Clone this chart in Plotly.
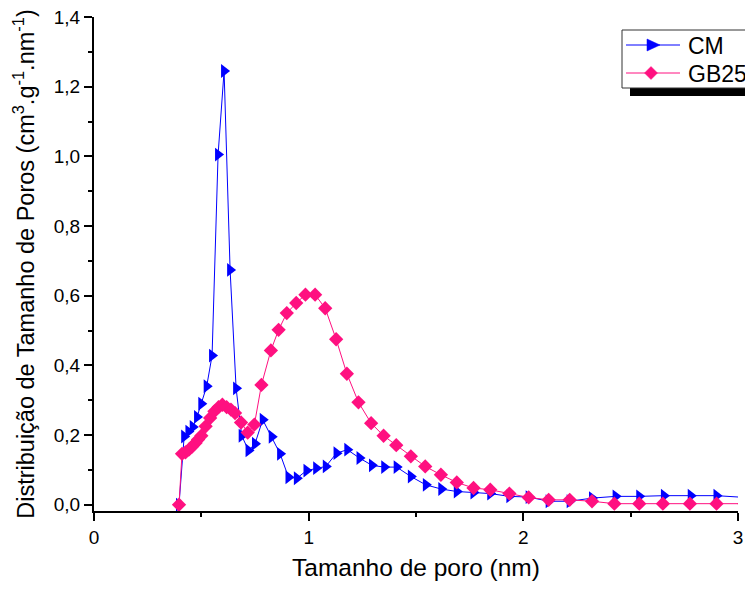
import plotly.graph_objects as go

# ---- data ----
cm_x = [0.396, 0.42, 0.44, 0.46, 0.48, 0.50, 0.525, 0.55, 0.578, 0.606, 0.634, 0.662,
        0.688, 0.72, 0.75, 0.786, 0.828, 0.867, 0.906, 0.945, 0.99, 1.035, 1.08, 1.13,
        1.18, 1.237, 1.295, 1.352, 1.41, 1.476, 1.546, 1.618, 1.69, 1.768, 1.846, 1.935,
        2.025, 2.118, 2.216, 2.32, 2.43, 2.54, 2.655, 2.78, 2.90, 3.03]
cm_y = [0.0, 0.196, 0.21, 0.223, 0.252, 0.29, 0.34, 0.428, 1.005, 1.245, 0.674, 0.334,
        0.198, 0.156, 0.175, 0.244, 0.195, 0.146, 0.079, 0.076, 0.098, 0.105, 0.11, 0.148,
        0.158, 0.134, 0.113, 0.108, 0.108, 0.081, 0.057, 0.045, 0.038, 0.035, 0.032, 0.024,
        0.022, 0.01, 0.01, 0.019, 0.024, 0.024, 0.026, 0.026, 0.026, 0.021]

gb_x = [0.396, 0.41, 0.426, 0.442, 0.457, 0.473, 0.485, 0.50, 0.52, 0.541, 0.561, 0.58,
        0.598, 0.618, 0.638, 0.657, 0.685, 0.716, 0.747, 0.78, 0.824, 0.86, 0.898, 0.942,
        0.985, 1.03, 1.077, 1.128, 1.178, 1.232, 1.291, 1.349, 1.408, 1.476, 1.543, 1.616,
        1.69, 1.768, 1.846, 1.935, 2.025, 2.118, 2.216, 2.32, 2.424, 2.54, 2.65, 2.776,
        2.90, 3.03]
gb_y = [0.0, 0.146, 0.15, 0.158, 0.167, 0.177, 0.187, 0.198, 0.225, 0.249, 0.268, 0.28,
        0.287, 0.28, 0.273, 0.263, 0.236, 0.207, 0.23, 0.344, 0.443, 0.502, 0.55, 0.579,
        0.603, 0.603, 0.564, 0.475, 0.376, 0.294, 0.234, 0.198, 0.171, 0.139, 0.11, 0.086,
        0.064, 0.048, 0.043, 0.032, 0.021, 0.014, 0.014, 0.01, 0.003, 0.003, 0.003, 0.003,
        0.003, 0.003]

series_names = ["CM", "GB25"]
x_tickvals = [0, 1, 2, 3]
x_ticktext = ["0", "1", "2", "3"]
y_tickvals = [0.0, 0.2, 0.4, 0.6, 0.8, 1.0, 1.2, 1.4]
y_ticktext = ["0,0", "0,2", "0,4", "0,6", "0,8", "1,0", "1,2", "1,4"]

FONT = "Liberation Sans, Arial, sans-serif"
BLUE = "#0000FF"
PINK = "#FF1080"

W, H = 745, 590
ML, MR, MT, MB = 94, 7, 17, 79
PW, PH = W - ML - MR, H - MT - MB


def px(xp):
    """page pixel x -> paper fraction"""
    return (xp - ML) / PW


def py(yp):
    """page pixel y -> paper fraction"""
    return (H - MB - yp) / PH


fig = go.Figure()
fig.add_trace(go.Scatter(
    x=cm_x, y=cm_y, name=series_names[0], mode="lines+markers",
    line=dict(color=BLUE, width=1),
    marker=dict(symbol="triangle-right", size=12, color=BLUE),
))
fig.add_trace(go.Scatter(
    x=gb_x, y=gb_y, name=series_names[1], mode="lines+markers",
    line=dict(color=PINK, width=1),
    marker=dict(symbol="diamond", size=11, color=PINK),
))

# ---- Origin-style legend box (extends past the right edge, with shadow) ----
shapes = [
    dict(type="rect", xref="paper", yref="paper", x0=px(630), x1=px(770), y0=py(96), y1=py(88),
         fillcolor="black", line=dict(width=0), layer="above"),
    dict(type="rect", xref="paper", yref="paper", x0=px(622), x1=px(770), y0=py(88), y1=py(30),
         fillcolor="white", line=dict(color="#333333", width=1), layer="above"),
    dict(type="line", xref="paper", yref="paper", x0=px(626), x1=px(680), y0=py(45), y1=py(45),
         line=dict(color=BLUE, width=1), layer="above"),
    dict(type="line", xref="paper", yref="paper", x0=px(626), x1=px(680), y0=py(73), y1=py(73),
         line=dict(color=PINK, width=1), layer="above"),
    dict(type="path", xref="paper", yref="paper", xsizemode="pixel", ysizemode="pixel",
         xanchor=px(653), yanchor=py(45), path="M -6,6 L 7,0 L -6,-6 Z",
         fillcolor=BLUE, line=dict(color=BLUE, width=0.5), layer="above"),
    dict(type="path", xref="paper", yref="paper", xsizemode="pixel", ysizemode="pixel",
         xanchor=px(651), yanchor=py(73), path="M 0,6.5 L 6.5,0 L 0,-6.5 L -6.5,0 Z",
         fillcolor=PINK, line=dict(color=PINK, width=0.5), layer="above"),
]
annotations = [
    dict(xref="paper", yref="paper", x=px(686), y=py(46), xanchor="left", yanchor="middle",
         text=series_names[0], showarrow=False, font=dict(family=FONT, size=23, color="black")),
    dict(xref="paper", yref="paper", x=px(686), y=py(74), xanchor="left", yanchor="middle",
         text=series_names[1], showarrow=False, font=dict(family=FONT, size=23, color="black")),
]

fig.update_layout(
    width=W, height=H,
    margin=dict(l=ML, r=MR, t=MT, b=MB, autoexpand=False),
    paper_bgcolor="white", plot_bgcolor="white",
    font=dict(family=FONT, color="black", size=19),
    showlegend=False,
    xaxis=dict(
        range=[0, 3], tickmode="array", tickvals=x_tickvals, ticktext=x_ticktext,
        showgrid=False, zeroline=False, showline=True, linecolor="black", linewidth=2,
        ticks="outside", ticklen=8, tickwidth=1.5, tickcolor="black",
        minor=dict(tickvals=[0.5, 1.5, 2.5], ticks="outside", ticklen=4, tickwidth=1.5, tickcolor="black"),
        tickfont=dict(size=19), automargin=False, ticklabeloverflow="allow",
        title=dict(text="Tamanho de poro (nm)", font=dict(size=24.5), standoff=12),
    ),
    yaxis=dict(
        range=[-0.018, 1.4], tickmode="array", tickvals=y_tickvals, ticktext=y_ticktext,
        showgrid=False, zeroline=False, showline=True, linecolor="black", linewidth=2,
        ticks="outside", ticklen=8, tickwidth=1.5, tickcolor="black",
        minor=dict(tickvals=[0.1, 0.3, 0.5, 0.7, 0.9, 1.1, 1.3], ticks="outside", ticklen=4,
                   tickwidth=1.5, tickcolor="black"),
        tickfont=dict(size=19), automargin=False, ticklabeloverflow="allow",
        title=dict(text="Distribuição de Tamanho de Poros (cm<sup>3</sup>.g<sup>-1</sup>.nm<sup>-1</sup>)",
                   font=dict(size=23.5), standoff=13),
    ),
    shapes=shapes,
    annotations=annotations,
)

# remove the page's default body margin so the 745x590 figure fills the window exactly
fig.write_html(
    "out.html",
    config={"displayModeBar": False},
    post_script="document.body.style.margin='0';document.body.style.overflow='hidden';",
)
